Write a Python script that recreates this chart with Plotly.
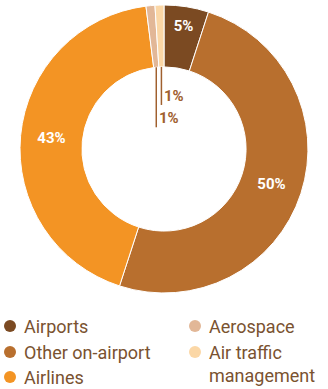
import math
import plotly.graph_objects as go

# ---- data ----
categories = ["Airports", "Other on-airport", "Airlines", "Aerospace", "Air traffic management"]
shares = [5, 50, 43, 1, 1]
colors = ["#7b4a22", "#b86f2e", "#f39424", "#e2b797", "#fbd7a6"]
legend_labels = ["Airports", "Other on-airport", "Airlines", "Aerospace", "Air traffic<br>management"]
small_slices = [3, 4]            # slices labelled outside (in the hole)
leader_len = {3: 60, 4: 38}      # px length of leader lines

W, H = 328, 389
cx, cy, R = 164, 149, 144        # pie centre / radius in window px
HOLE = 0.57

def px2x(px):
    return px / W

def py2y(py):
    return 1 - py / H

texttemplates = ["" if i in small_slices else "%{value}%" for i in range(len(shares))]

fig = go.Figure(go.Pie(
    labels=categories,
    values=shares,
    sort=False,
    direction="clockwise",
    rotation=0,
    hole=HOLE,
    marker=dict(colors=colors, line=dict(color="white", width=1)),
    texttemplate=texttemplates,
    textinfo="none",
    textposition="inside",
    insidetextorientation="horizontal",
    textfont=dict(color="white", size=15, family="Roboto", weight="bold"),
    domain=dict(x=[px2x(cx - R), px2x(cx + R)], y=[py2y(cy + R), py2y(cy - R)]),
    showlegend=False,
    hoverinfo="label+percent",
))

shapes = []
annotations = []
total = sum(shares)
cum = 0
for i, v in enumerate(shares):
    mid = (cum + v / 2) / total
    cum += v
    if i not in small_slices:
        continue
    th = 2 * math.pi * mid
    px = cx + R * HOLE * math.sin(th)
    py = cy - R * HOLE * math.cos(th)
    py_end = py + leader_len[i]
    shapes.append(dict(type="line", xref="paper", yref="paper",
                       x0=px2x(px), x1=px2x(px), y0=py2y(py), y1=py2y(py_end),
                       line=dict(color="#a0602e", width=1.5)))
    annotations.append(dict(xref="paper", yref="paper", x=px2x(px + 1), y=py2y(py_end + 2),
                            xanchor="left", yanchor="bottom", showarrow=False,
                            text=f"{v}%",
                            font=dict(color="#a0602e", size=15, family="Roboto", weight="bold")))

# ---- legend (two columns) ----
leg_pos = [(10, 326), (10, 352), (10, 377), (195, 326), (195, 352)]
for (mx, my), lab, col in zip(leg_pos, legend_labels, colors):
    r = 6
    shapes.append(dict(type="circle", xref="paper", yref="paper",
                       x0=px2x(mx - r), x1=px2x(mx + r), y0=py2y(my + r), y1=py2y(my - r),
                       fillcolor=col, line=dict(width=0)))
    annotations.append(dict(xref="paper", yref="paper", x=px2x(mx + 12), y=py2y(my - 12),
                            xanchor="left", yanchor="top", align="left", showarrow=False,
                            text=lab,
                            font=dict(color="#7a5230", size=18, family="Roboto")))

fig.update_layout(
    width=W, height=H,
    margin=dict(l=0, r=0, t=0, b=0),
    paper_bgcolor="white",
    plot_bgcolor="white",
    shapes=shapes,
    annotations=annotations,
)

fig.write_html("out.html",
               config={"displayModeBar": False},
               post_script="document.body.style.margin='0';document.body.style.padding='0';"
                           "document.body.style.overflow='hidden';")
